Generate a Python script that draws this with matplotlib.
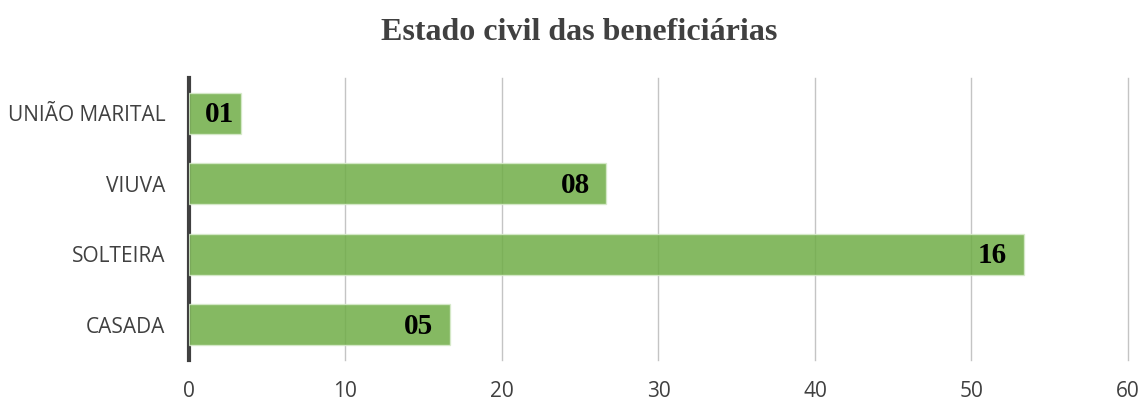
import matplotlib.pyplot as plt

# dados (estado civil das beneficiárias, n = 30)
categorias = ['CASADA', 'SOLTEIRA', 'VIUVA', 'UNIÃO MARITAL']
contagens = [5, 16, 8, 1]
percentuais = [16.67, 53.33, 26.67, 3.33]
rotulos = ['05', '16', '08', '01']

fig = plt.figure(figsize=(11.44, 4.01), dpi=100)
ax = fig.add_axes([0.1652, 0.102, 0.8208, 0.703])

bars = ax.barh(categorias, percentuais, height=0.58, color='#70AD47', alpha=0.85,
               edgecolor='#d8ebcc', linewidth=1, zorder=3)

for b, txt in zip(bars, rotulos):
    w = b.get_width()
    off = -12 if w > 5 else -5
    ax.annotate(txt, (w, b.get_y() + b.get_height() / 2), xytext=(off, -1),
                textcoords='offset points', ha='right', va='center',
                fontsize=21, fontweight='bold', family='Liberation Serif',
                color='black', zorder=4)

ax.set_xlim(0, 60)
ax.set_ylim(-0.5, 3.5)
ax.set_xticks(range(0, 61, 10))
ax.xaxis.grid(True, color='#c4c4c4', linewidth=1)
for gl in ax.get_xgridlines():
    gl.set_clip_on(False)
ax.set_axisbelow(True)

for s in ['top', 'right', 'bottom']:
    ax.spines[s].set_visible(False)
ax.spines['left'].set_color('#404040')
ax.spines['left'].set_linewidth(3)

ax.tick_params(axis='both', length=0, labelcolor='#404040', labelsize=15)
ax.tick_params(axis='y', pad=17)
ax.tick_params(axis='x', pad=15)
for lab in ax.get_xticklabels() + ax.get_yticklabels():
    lab.set_family('Open Sans')

fig.suptitle('Estado civil das beneficiárias', x=0.506, y=0.955, fontsize=23,
             fontweight='bold', family='Liberation Serif', color='#404040')

fig.savefig('out.png', dpi=100)
